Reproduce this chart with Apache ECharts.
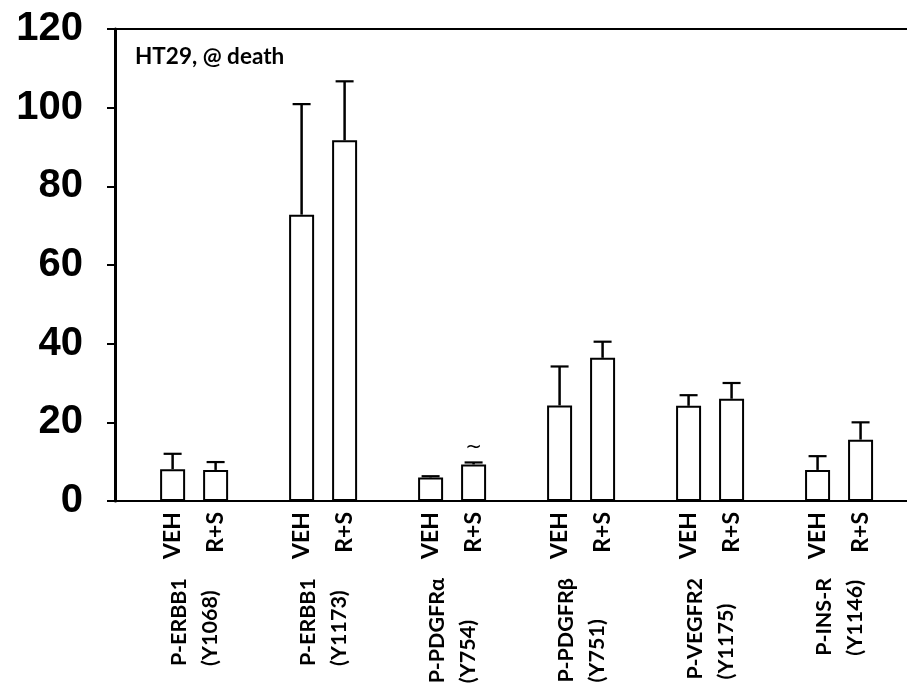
<!DOCTYPE html>
<html>
<head>
<meta charset="utf-8">
<script src="https://cdn.jsdelivr.net/npm/echarts@6/dist/echarts.min.js"></script>
<style>
html,body{margin:0;padding:0;background:#fff;}
#chart{width:907px;height:691px;}
</style>
</head>
<body>
<div id="chart"></div>
<script>
// ---- data ----
const groups = ['P-ERBB1\n(Y1068)', 'P-ERBB1\n(Y1173)', 'P-PDGFRα\n(Y754)', 'P-PDGFRβ\n(Y751)', 'P-VEGFR2\n(Y1175)', 'P-INS-R\n(Y1146)'];
const treatments = ['VEH', 'R+S'];
const vehMeans = [8.1, 72.8, 6.0, 24.3, 24.2, 7.9];
const vehSD    = [3.9, 28.1, 0.3, 9.9, 2.7, 3.5];
const rsMeans  = [7.9, 91.7, 9.3, 36.4, 26.0, 15.6];
const rsSD     = [2.0, 15.0, 0.5, 4.1, 4.0, 4.4];
const vehMarks = ['', '', '', '', '', ''];
const rsMarks  = ['', '', '~', '', '', ''];
const yMin = 0, yMax = 120, yStep = 20;
const titleText = 'HT29, @ death';

// ---- layout helpers ----
const slot = (g, t) => g * 3 + 1 + t;
const labelFont = 'Lato';
const vehData = vehMeans.map((v, g) => [slot(g, 0), v]);
const rsData = rsMeans.map((v, g) => [slot(g, 1), v]);
const errData = [];
vehMeans.forEach((v, g) => errData.push([slot(g, 0), v, vehSD[g], vehMarks[g]]));
rsMeans.forEach((v, g) => errData.push([slot(g, 1), v, rsSD[g], rsMarks[g]]));
const groupData = groups.map((name, g) => ({ value: [g * 3 + 1.5, 0], name: name }));

const barStyle = { color: '#fff', borderColor: '#000', borderWidth: 2 };
const treatLabel = (name) => ({
  show: true, position: 'bottom', distance: 11, rotate: 90,
  align: 'right', verticalAlign: 'middle',
  formatter: name, fontFamily: labelFont, fontWeight: 'bold', fontSize: 23, color: '#000'
});

const chart = echarts.init(document.getElementById('chart'));
chart.setOption({
  animation: false,
  backgroundColor: '#fff',
  title: {
    text: titleText, left: 130, top: 40,
    textStyle: { fontFamily: labelFont, fontWeight: 'bold', fontSize: 22.5, color: '#000' }
  },
  grid: { left: 115, right: 0, top: 29, height: 472 },
  xAxis: [{
    type: 'value', min: -0.34, max: 18.08, position: 'bottom',
    axisLine: { show: true, onZero: false, lineStyle: { color: '#000', width: 2 } },
    axisTick: { show: false }, axisLabel: { show: false }, splitLine: { show: false }
  }, {
    type: 'value', min: -0.34, max: 18.08, position: 'top',
    axisLine: { show: true, onZero: false, lineStyle: { color: '#000', width: 2 } },
    axisTick: { show: false }, axisLabel: { show: false }, splitLine: { show: false }
  }],
  yAxis: {
    type: 'value', min: yMin, max: yMax, interval: yStep, position: 'left',
    axisLine: { show: true, onZero: false, lineStyle: { color: '#000', width: 3 } },
    axisTick: { show: true, inside: false, length: 8, lineStyle: { color: '#000', width: 2 } },
    axisLabel: { margin: 32, fontFamily: 'Liberation Sans', fontWeight: 'bold', fontSize: 40, color: '#000' },
    splitLine: { show: false }
  },
  series: [{
    name: treatments[0], type: 'bar', data: vehData, barWidth: 25, barGap: '-100%',
    itemStyle: barStyle, label: treatLabel(treatments[0])
  }, {
    name: treatments[1], type: 'bar', data: rsData, barWidth: 25, barGap: '-100%',
    itemStyle: barStyle, label: treatLabel(treatments[1])
  }, {
    type: 'custom', data: errData, encode: { x: 0, y: 1 }, z: 5,
    renderItem: function (params, api) {
      const x = api.value(0), m = api.value(1), sd = api.value(2);
      const mark = errData[params.dataIndex][3];
      const p0 = api.coord([x, m]);
      const p1 = api.coord([x, m + sd]);
      const half = 9;
      const children = [{
        type: 'line', shape: { x1: p0[0], y1: p0[1], x2: p1[0], y2: p1[1] },
        style: { stroke: '#000', lineWidth: 2.5 }
      }, {
        type: 'line', shape: { x1: p1[0] - half, y1: p1[1], x2: p1[0] + half, y2: p1[1] },
        style: { stroke: '#000', lineWidth: 2.2 }
      }];
      if (mark) {
        children.push({
          type: 'text', x: p1[0], y: p1[1] - 15,
          style: { text: mark, fontFamily: 'DejaVu Sans', fontSize: 20, fill: '#000', align: 'center', verticalAlign: 'middle' }
        });
      }
      return { type: 'group', children: children };
    }
  }, {
    type: 'scatter', data: groupData, symbolSize: 0, silent: true, z: 6,
    itemStyle: { color: '#000', opacity: 1 },
    label: {
      show: true, position: 'bottom', distance: 77, rotate: 90,
      align: 'right', verticalAlign: 'middle',
      fontFamily: labelFont, fontWeight: 'bold', fontSize: 21.5, lineHeight: 31, color: '#000', opacity: 1,
      formatter: function (p) { return p.name.split('\n').map(s => '{a|' + s + '}').join('\n'); },
      rich: { a: { align: 'left', fontFamily: labelFont, fontWeight: 'bold', fontSize: 21.5, lineHeight: 31, color: '#000' } }
    }
  }]
});
</script>
</body>
</html>
